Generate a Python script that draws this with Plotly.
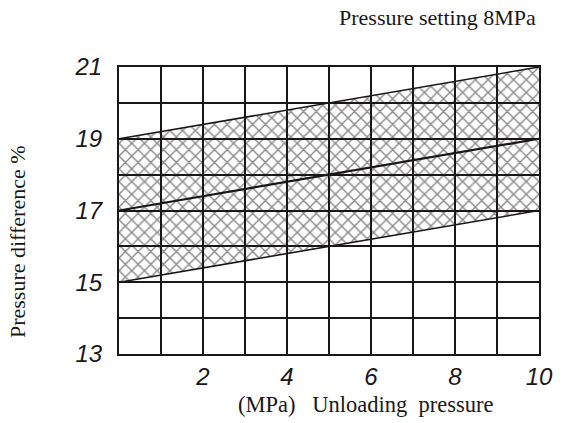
import plotly.graph_objects as go

# Data
x_ends = [0, 10]
lower_edge = [15, 17]
middle_line = [17, 19]
upper_edge = [19, 21]

x_tick_vals = list(range(0, 11))
x_tick_text = ["", "", "2", "", "4", "", "6", "", "8", "", "10"]
y_tick_vals = list(range(13, 22))
y_tick_text = ["13", "", "15", "", "17", "", "19", "", "21"]

title_top = "Pressure setting 8MPa"
x_title = "(MPa)&nbsp;&nbsp;&nbsp;Unloading&nbsp;&nbsp;pressure"
y_title = "Pressure difference %"

ink = "#1a1718"

fig = go.Figure()
fig.add_trace(go.Scatter(x=x_ends, y=lower_edge, mode="lines",
                         line=dict(color=ink, width=1.6), showlegend=False,
                         hoverinfo="skip"))
fig.add_trace(go.Scatter(x=x_ends, y=upper_edge, mode="lines",
                         line=dict(color=ink, width=1.6), fill="tonexty",
                         fillcolor="rgba(0,0,0,0)",
                         fillpattern=dict(shape="x", size=9, solidity=0.3,
                                          fgcolor=ink, bgcolor="rgba(0,0,0,0)"),
                         showlegend=False, hoverinfo="skip"))
fig.add_trace(go.Scatter(x=x_ends, y=middle_line, mode="lines",
                         line=dict(color=ink, width=2.2), showlegend=False,
                         hoverinfo="skip"))

axis_common = dict(showgrid=True, gridcolor=ink, gridwidth=2,
                   showline=True, linecolor=ink, linewidth=2, mirror=True,
                   zeroline=False, ticks="", layer="above traces",
                   tickfont=dict(family="Liberation Sans", size=24, color=ink, style="italic"))

fig.update_xaxes(range=[0, 10], tickmode="array", tickvals=x_tick_vals,
                 ticktext=x_tick_text, ticklabelstandoff=0, **axis_common)
fig.update_yaxes(range=[13, 21], tickmode="array", tickvals=y_tick_vals,
                 ticktext=y_tick_text, ticklabelstandoff=10, **axis_common)

# plot area spans page x 119..548, y 67..354
fig.add_annotation(text=title_top, xref="paper", yref="paper", x=0.998, y=1.0,
                   xanchor="right", yanchor="middle", yshift=50, showarrow=False,
                   font=dict(family="Liberation Serif", size=22, color=ink))
fig.add_annotation(text=x_title, xref="paper", yref="paper", x=0.587, y=0,
                   xanchor="center", yanchor="middle", yshift=-50, showarrow=False,
                   font=dict(family="Liberation Serif", size=22.5, color=ink))
fig.add_annotation(text=y_title, xref="paper", yref="paper", x=0, y=0.39,
                   xanchor="center", yanchor="middle", xshift=-102, showarrow=False,
                   textangle=-90,
                   font=dict(family="Liberation Serif", size=22, color=ink))

fig.update_layout(width=565, height=423, margin=dict(l=119, r=17, t=67, b=69),
                  plot_bgcolor="white", paper_bgcolor="white", hovermode=False)

fig.write_html("out.html", config={"displayModeBar": False},
               post_script="document.body.style.margin='0';document.body.style.overflow='hidden';")
